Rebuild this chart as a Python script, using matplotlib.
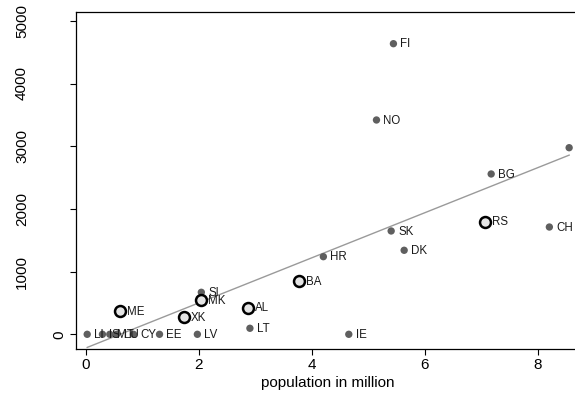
import numpy as np
import matplotlib
matplotlib.use("Agg")
import matplotlib.pyplot as plt

plt.rcParams['font.family'] = ['Liberation Sans', 'DejaVu Sans']

# countries, population (million) and value
countries = ['LI', 'IS', 'MT', 'LU', 'CY', 'EE', 'LV', 'ME', 'XK', 'SI', 'MK',
             'AL', 'LT', 'BA', 'HR', 'IE', 'NO', 'FI', 'SK', 'DK', 'RS', 'BG',
             'CH', '']
population = [0.03, 0.30, 0.43, 0.55, 0.85, 1.31, 1.98, 0.61, 1.74, 2.05, 2.04,
              2.87, 2.91, 3.78, 4.21, 4.66, 5.15, 5.45, 5.41, 5.64, 7.07, 7.18,
              8.21, 8.56]
value = [0, 0, 0, 0, 0, 0, 0, 372, 276, 670, 547,
         424, 96, 850, 1238, 0, 3418, 4635, 1648, 1340, 1796, 2557,
         1711, 2976]
# western balkans highlighted with hollow circles
highlight = ['ME', 'XK', 'MK', 'AL', 'BA', 'RS']

yticks = [0, 1000, 2000, 3000, 4000, 5000]
xticks = [0, 2, 4, 6, 8]

W, H = 575, 398
fig = plt.figure(figsize=(W / 100, H / 100), dpi=100)
# axes box in pixels: left 76, right beyond edge, top 12, bottom 349
ax = fig.add_axes([76 / W, (H - 349) / H, (580 - 76) / W, (349 - 12) / H])

x = np.array(population)
y = np.array(value)

# linear fit
b, a = np.polyfit(x, y, 1)
xs = np.array([x.min(), x.max()])
ax.plot(xs, a + b * xs, color='#9a9a9a', lw=1.0, zorder=1)

# all countries as grey dots
ax.scatter(x, y, s=28, color='#5f5f5f', edgecolors='none', zorder=2)

# highlighted countries
hl = np.array([c in highlight for c in countries])
ax.scatter(x[hl], y[hl], s=62, facecolors='#e4e4e4', edgecolors='black',
           linewidths=1.8, zorder=3)

for c, xi, yi in zip(countries, x, y):
    if c:
        ax.annotate(c, (xi, yi), xytext=(5, -0.5), textcoords='offset points',
                    ha='left', va='center', fontsize=8.3, color='#1a1a1a', zorder=4)

ax.set_xlim((76 - 85.5) / 56.5, (580 - 85.5) / 56.5)
ax.set_ylim(-(349 - 334.3) / 62.7 * 1000, (334.3 - 12) / 62.7 * 1000)

ax.set_xticks(xticks)
ax.set_xticklabels([str(t) for t in xticks], fontsize=11)
ax.set_xlabel('population in million', fontsize=11, labelpad=3)

ax.set_yticks(yticks)
ax.set_yticklabels([])
ytrans = ax.get_yaxis_transform()
for t in yticks:
    dx = -17 if t == 0 else -54
    ax.annotate(str(t), (0, t), xycoords=ytrans, xytext=(dx, 0),
                textcoords='offset pixels', rotation=90, ha='center',
                va='center', fontsize=11, annotation_clip=False)

ax.tick_params(direction='out', length=4.3, width=0.8, color='black', pad=2)
ax.spines['right'].set_visible(False)
for s in ['left', 'bottom', 'top']:
    ax.spines[s].set_linewidth(0.9)

fig.savefig('out.png', dpi=100)
